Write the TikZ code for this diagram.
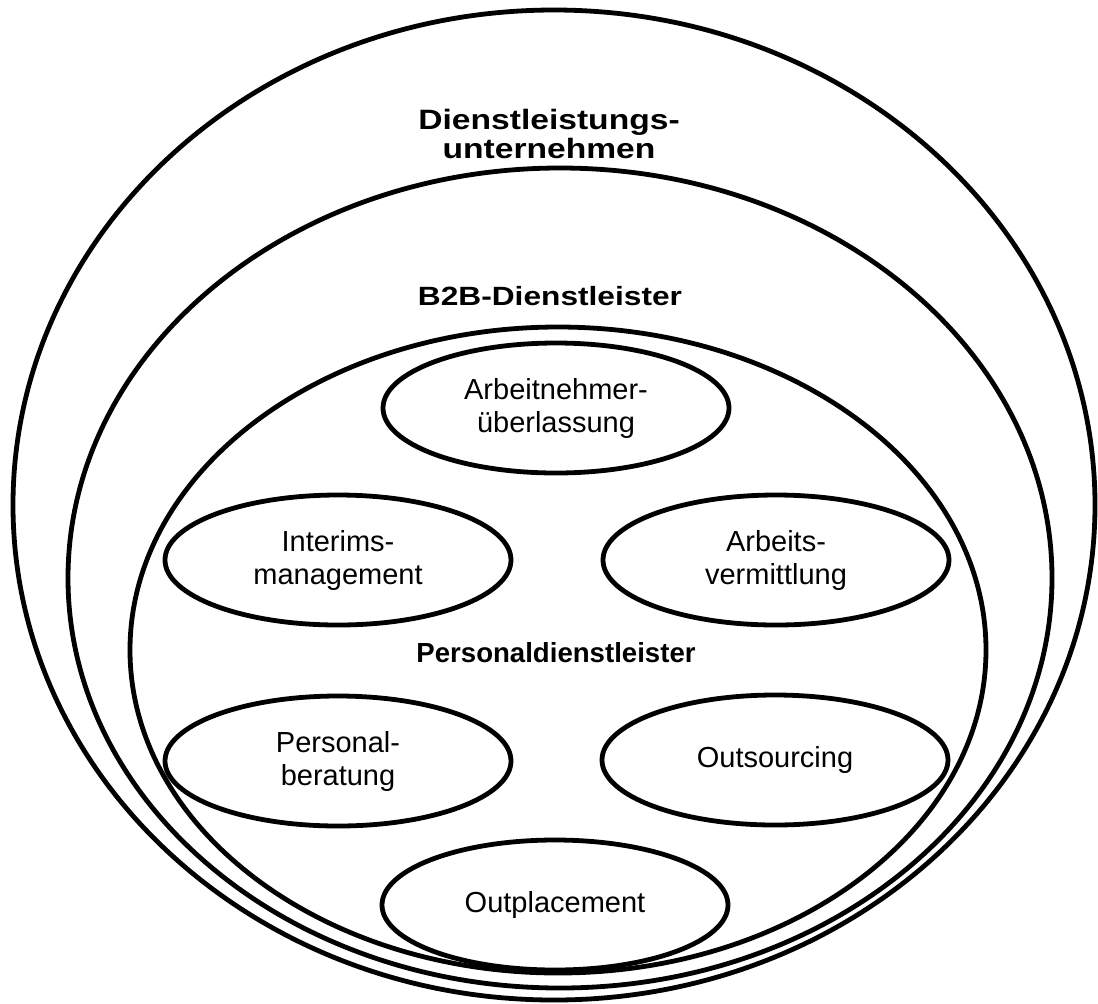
\documentclass[tikz,border=0pt]{standalone}
\usepackage{fontspec}
\setmainfont{Liberation Sans}
\newfontfamily\widesans[FakeStretch=1.2]{Liberation Sans}
\usetikzlibrary{shapes.geometric}

\tikzset{
  ring/.style={line width=2.4pt},
  offer/.style={draw,ellipse,line width=2.4pt,minimum width=173pt,minimum height=65pt,
    inner sep=0pt,align=center,font=\fontsize{14.5}{16.5}\selectfont},
  title/.style={align=center,font=\widesans\fontsize{#1}{14.5}\selectfont\bfseries},
  innertitle/.style={align=center,font=\fontsize{13.8}{14.5}\selectfont\bfseries}
}

\begin{document}
\begin{tikzpicture}[x=0.5pt,y=-0.5pt,line cap=round,line join=round]
  \useasboundingbox (0,0) rectangle (1098,1003);
  % nested rings
  \draw[ring] (554,505) ellipse [x radius=270.5pt,y radius=247.5pt];
  \draw[ring] (560,578) ellipse [x radius=246pt,y radius=205pt];
  \draw[ring] (558,650) ellipse [x radius=214pt,y radius=161.5pt];

  % ring titles
  \node[title=14] (dlu) at (549,134) {Dienstleistungs-\\unternehmen};
  \node[title=13.2,anchor=base] (b2b) at (550,305) {B2B-Dienstleister};
  \node[innertitle,anchor=base] (pdl) at (556,662) {Personaldienstleister};

  % services
  \node[offer] (anue) at (556,408) {Arbeitnehmer-\\überlassung};
  \node[offer] (intm) at (338,560) {Interims-\\management};
  \node[offer] (arbv) at (776,560) {Arbeits-\\vermittlung};
  \node[offer] (pber) at (338,761) {Personal-\\beratung};
  \node[offer] (outs) at (775,760) {Outsourcing};
  \node[offer] (outp) at (555,905) {Outplacement};
\end{tikzpicture}
\end{document}
